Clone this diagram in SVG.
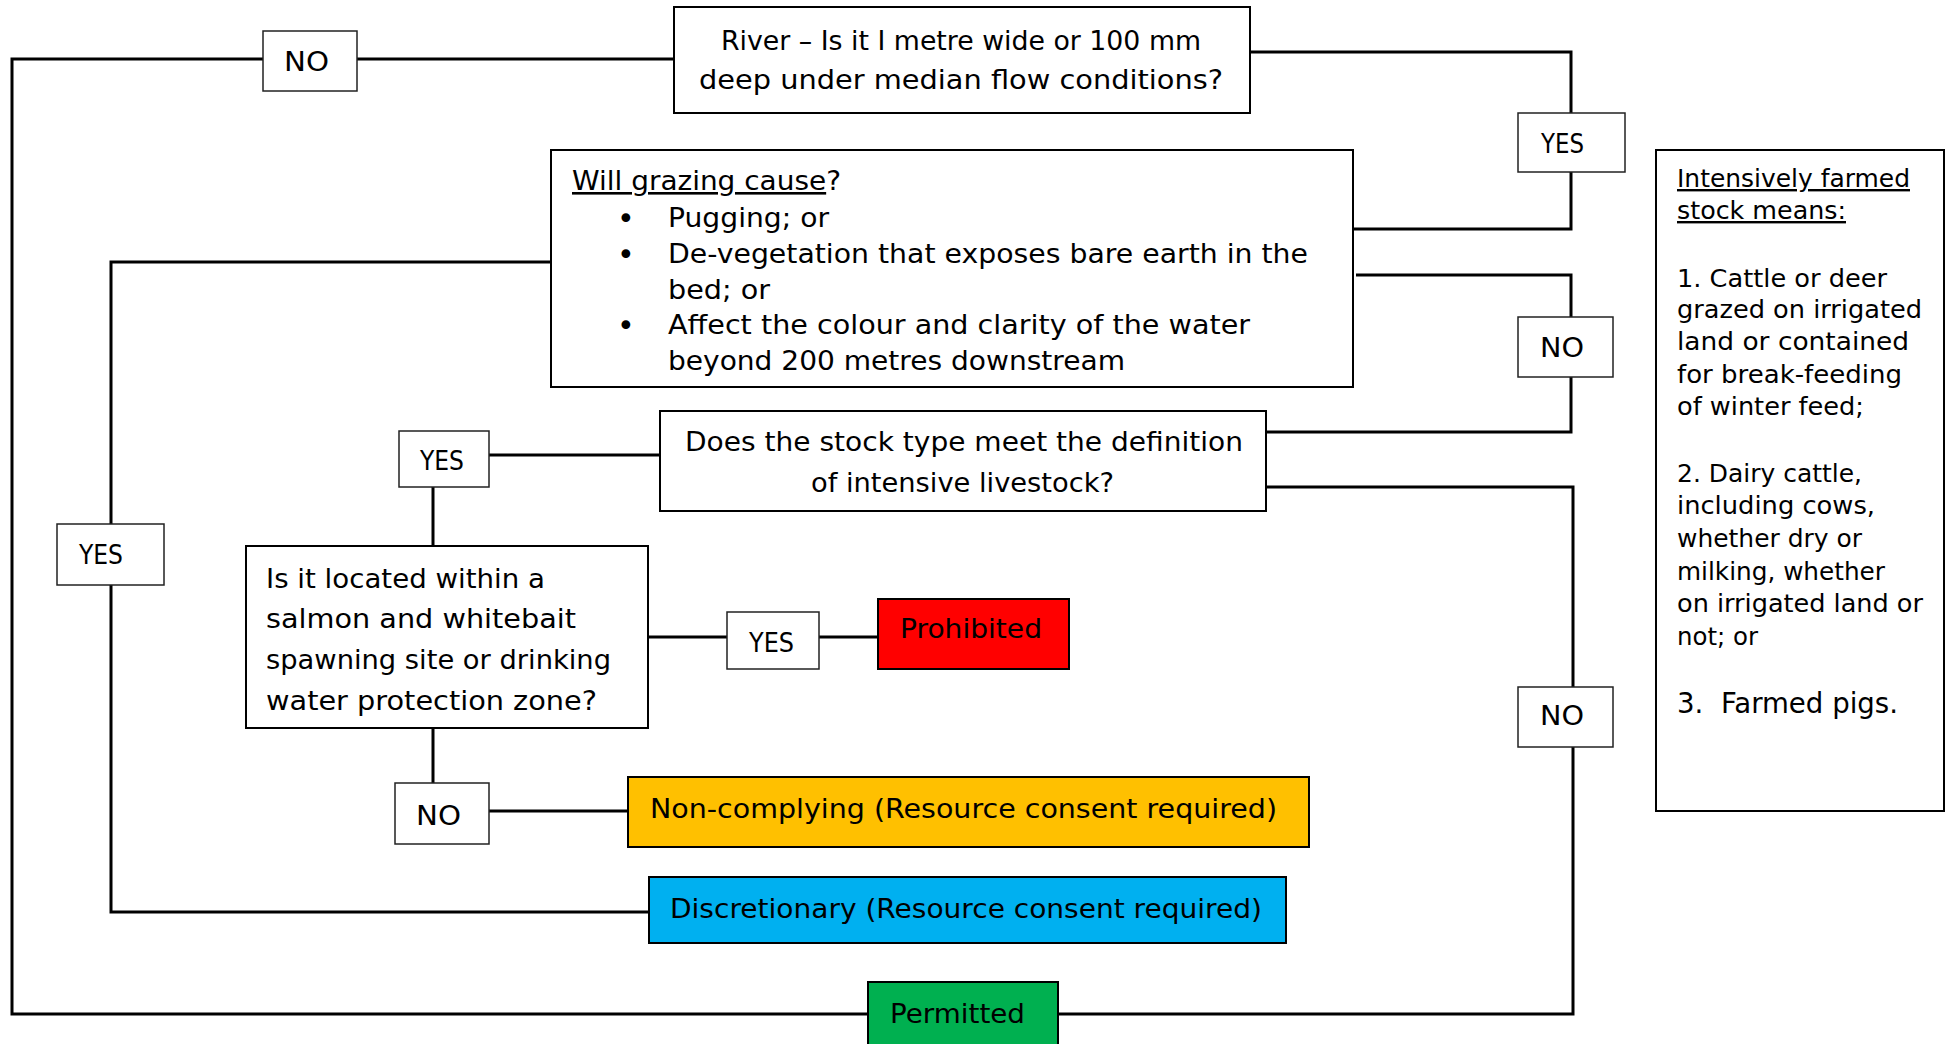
<svg xmlns="http://www.w3.org/2000/svg" width="1946" height="1044" viewBox="0 0 1946 1044">
<style>
  .bg { fill: #ffffff; }
  .box { fill: #ffffff; stroke: #000000; stroke-width: 2; }
  .lbl { fill: #ffffff; stroke: #222222; stroke-width: 1.5; }
  .conn { fill: none; stroke: #000000; stroke-width: 3; stroke-linejoin: miter; }
  .t { font-family: "DejaVu Sans", "Liberation Sans", sans-serif; font-size: 26px; fill: #000000; }
  .b { font-family: "DejaVu Sans", "Liberation Sans", sans-serif; font-size: 30px; fill: #000000; }
  .d { font-family: "DejaVu Sans", "Liberation Sans", sans-serif; font-size: 24px; fill: #000000; }
  .u { text-decoration: underline; }
</style>
<rect class="bg" x="0" y="0" width="1946" height="1044"/>

<g id="connectors">
  <path class="conn" d="M674,59 H12 V1014 H868"/>
  <path class="conn" d="M1250,52 H1571 V229 H1353"/>
  <path class="conn" d="M1356,275 H1571 V432 H1266"/>
  <path class="conn" d="M1266,487 H1573 V1014 H1058"/>
  <path class="conn" d="M551,262 H111 V912 H649"/>
  <path class="conn" d="M660,455 H433 V546"/>
  <path class="conn" d="M648,637 H878"/>
  <path class="conn" d="M433,728 V811 H628"/>
</g>

<g id="river">
  <rect class="box" x="674" y="7" width="576" height="106"/>
  <text class="t" x="721" y="50" textLength="480" lengthAdjust="spacingAndGlyphs">River – Is it I metre wide or 100 mm</text>
  <text class="t" x="699" y="89" textLength="524" lengthAdjust="spacingAndGlyphs">deep under median flow conditions?</text>
</g>

<g id="grazing">
  <rect class="box" x="551" y="150" width="802" height="237"/>
  <text class="t" x="572" y="190" textLength="269" lengthAdjust="spacingAndGlyphs"><tspan class="u">Will grazing cause</tspan>?</text>
  <text class="b" x="617" y="229">•</text>
  <text class="t" x="668" y="227" textLength="161" lengthAdjust="spacingAndGlyphs">Pugging; or</text>
  <text class="b" x="617" y="265">•</text>
  <text class="t" x="668" y="263" textLength="640" lengthAdjust="spacingAndGlyphs">De-vegetation that exposes bare earth in the</text>
  <text class="t" x="668" y="299" textLength="102" lengthAdjust="spacingAndGlyphs">bed; or</text>
  <text class="b" x="617" y="336">•</text>
  <text class="t" x="668" y="334" textLength="582" lengthAdjust="spacingAndGlyphs">Affect the colour and clarity of the water</text>
  <text class="t" x="668" y="370" textLength="457" lengthAdjust="spacingAndGlyphs">beyond 200 metres downstream</text>
</g>

<g id="stock">
  <rect class="box" x="660" y="411" width="606" height="100"/>
  <text class="t" x="685" y="451" textLength="558" lengthAdjust="spacingAndGlyphs">Does the stock type meet the definition</text>
  <text class="t" x="811" y="492" textLength="303" lengthAdjust="spacingAndGlyphs">of intensive livestock?</text>
</g>

<g id="salmon">
  <rect class="box" x="246" y="546" width="402" height="182"/>
  <text class="t" x="266" y="588" textLength="279" lengthAdjust="spacingAndGlyphs">Is it located within a</text>
  <text class="t" x="266" y="628" textLength="310" lengthAdjust="spacingAndGlyphs">salmon and whitebait</text>
  <text class="t" x="266" y="669" textLength="345" lengthAdjust="spacingAndGlyphs">spawning site or drinking</text>
  <text class="t" x="266" y="710" textLength="331" lengthAdjust="spacingAndGlyphs">water protection zone?</text>
</g>

<g id="prohibited">
  <rect class="box" x="878" y="599" width="191" height="70" style="fill:#FF0000"/>
  <text class="t" x="900" y="638" textLength="142" lengthAdjust="spacingAndGlyphs">Prohibited</text>
</g>

<g id="noncomplying">
  <rect class="box" x="628" y="777" width="681" height="70" style="fill:#FFC000"/>
  <text class="t" x="650" y="818" textLength="627" lengthAdjust="spacingAndGlyphs">Non-complying (Resource consent required)</text>
</g>

<g id="discretionary">
  <rect class="box" x="649" y="877" width="637" height="66" style="fill:#00B0F0"/>
  <text class="t" x="670" y="918" textLength="592" lengthAdjust="spacingAndGlyphs">Discretionary (Resource consent required)</text>
</g>

<g id="permitted">
  <rect class="box" x="868" y="982" width="190" height="72" style="fill:#00B050"/>
  <text class="t" x="890" y="1023" textLength="135" lengthAdjust="spacingAndGlyphs">Permitted</text>
</g>

<g id="definition">
  <rect class="box" x="1656" y="150" width="288" height="661"/>
  <text class="d u" x="1677" y="187" textLength="233" lengthAdjust="spacingAndGlyphs">Intensively farmed</text>
  <text class="d u" x="1677" y="219" textLength="169" lengthAdjust="spacingAndGlyphs">stock means:</text>
  <text class="d" x="1677" y="287" textLength="210" lengthAdjust="spacingAndGlyphs">1. Cattle or deer</text>
  <text class="d" x="1677" y="318" textLength="245" lengthAdjust="spacingAndGlyphs">grazed on irrigated</text>
  <text class="d" x="1677" y="350" textLength="232" lengthAdjust="spacingAndGlyphs">land or contained</text>
  <text class="d" x="1677" y="383" textLength="225" lengthAdjust="spacingAndGlyphs">for break-feeding</text>
  <text class="d" x="1677" y="415" textLength="187" lengthAdjust="spacingAndGlyphs">of winter feed;</text>
  <text class="d" x="1677" y="482" textLength="185" lengthAdjust="spacingAndGlyphs">2. Dairy cattle,</text>
  <text class="d" x="1677" y="514" textLength="198" lengthAdjust="spacingAndGlyphs">including cows,</text>
  <text class="d" x="1677" y="547" textLength="185" lengthAdjust="spacingAndGlyphs">whether dry or</text>
  <text class="d" x="1677" y="580" textLength="208" lengthAdjust="spacingAndGlyphs">milking, whether</text>
  <text class="d" x="1677" y="612" textLength="246" lengthAdjust="spacingAndGlyphs">on irrigated land or</text>
  <text class="d" x="1677" y="645" textLength="81" lengthAdjust="spacingAndGlyphs">not; or</text>
  <text class="d" x="1677" y="713" style="font-size:27.5px" xml:space="preserve" textLength="221" lengthAdjust="spacingAndGlyphs">3.  Farmed pigs.</text>
</g>

<g id="label-no-top">
  <rect class="lbl" x="263" y="31" width="94" height="60"/>
  <text class="t" x="284" y="71" textLength="45" lengthAdjust="spacingAndGlyphs">NO</text>
</g>
<g id="label-yes-river">
  <rect class="lbl" x="1518" y="113" width="107" height="59"/>
  <text class="t" x="1541" y="153" textLength="43" lengthAdjust="spacingAndGlyphs">YES</text>
</g>
<g id="label-no-grazing">
  <rect class="lbl" x="1518" y="317" width="95" height="60"/>
  <text class="t" x="1540" y="357" textLength="44" lengthAdjust="spacingAndGlyphs">NO</text>
</g>
<g id="label-yes-grazing">
  <rect class="lbl" x="57" y="524" width="107" height="61"/>
  <text class="t" x="79" y="564" textLength="44" lengthAdjust="spacingAndGlyphs">YES</text>
</g>
<g id="label-yes-stock">
  <rect class="lbl" x="399" y="431" width="90" height="56"/>
  <text class="t" x="420" y="470" textLength="44" lengthAdjust="spacingAndGlyphs">YES</text>
</g>
<g id="label-yes-salmon">
  <rect class="lbl" x="727" y="612" width="92" height="57"/>
  <text class="t" x="749" y="652" textLength="45" lengthAdjust="spacingAndGlyphs">YES</text>
</g>
<g id="label-no-salmon">
  <rect class="lbl" x="395" y="783" width="94" height="61"/>
  <text class="t" x="416" y="825" textLength="45" lengthAdjust="spacingAndGlyphs">NO</text>
</g>
<g id="label-no-stock">
  <rect class="lbl" x="1518" y="687" width="95" height="60"/>
  <text class="t" x="1540" y="725" textLength="44" lengthAdjust="spacingAndGlyphs">NO</text>
</g>
</svg>
